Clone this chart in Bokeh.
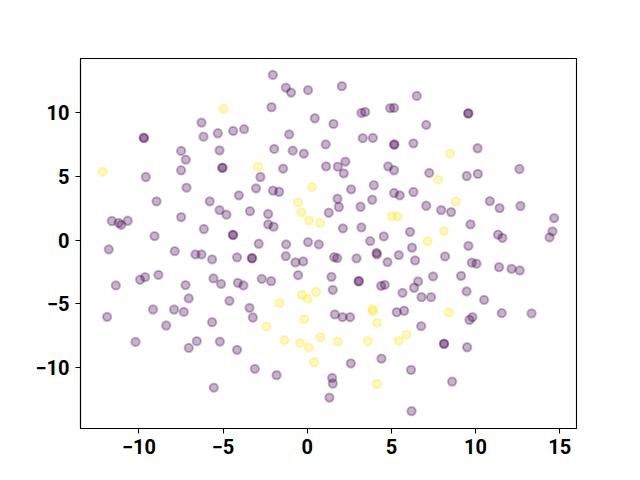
from bokeh.plotting import figure
from bokeh.models import Range1d, FixedTicker, ColumnDataSource
from bokeh.embed import file_html
from bokeh.resources import INLINE

# class 0 (purple) and class 1 (yellow) points
x_vals = [
    -4.97, -6.28, -6.16, -5.31, -4.40, -3.75, -9.69, -9.72, -7.49, -7.21, -5.21, -7.49, -5.03, -5.05,
    -12.15, -9.59, -7.17, -4.06, -8.95, -5.79, -5.21, -4.80, -3.40, -11.61, -11.20, -11.05, -10.66,
    -7.49, -6.14, -4.40, -4.42, -9.07, -11.79,
    -7.87, -6.64, -6.28, -5.65, -4.17, -3.27, -3.29, -11.37, -9.93, -9.63, -8.84, -7.23, -5.57, -5.12,
    -4.12, -3.79, -7.04, -4.62, -3.43, -3.23, -11.89, -9.16, -7.91, -7.33, -8.38, -5.65, -10.20, -7.04,
    -6.56, -5.19, -4.17, -5.55,
    -2.04, -1.27, -0.96, 0.05, 2.06, -2.12, 0.45, 1.56, 3.22, 3.44, 4.93, 5.16, 6.51, -1.07, 3.30, 3.90,
    5.16, 5.18, 6.31, -1.96, -0.86, -0.20, 1.10, -2.92, -2.78, -1.43, 1.12, 1.82, 2.27, 2.17, 4.81, 5.16,
    -3.04, -2.03, -1.67, 0.29, 2.61, 3.96, 5.16, 5.50, 6.31, -2.32, -2.32, -2.00, 1.80, 1.88, 3.17, 3.86,
    -0.54, -0.34, 0.11, 0.77, 1.28, 2.12, 3.22, 5.04, 5.36, 6.11, -2.88, -1.25, 0.05, 0.69, 3.74, 4.55, 6.23,
    9.56, 9.58, 7.07, 8.49, 10.12, 7.25, 7.78, 9.48, 10.14, 12.61, 7.07, 7.96, 8.55, 8.83, 10.85, 11.43,
    12.67, 14.67, 14.57, 14.40, 9.70, 11.34, 11.60, 8.12, 7.15, 9.58,
    6.41, 8.19, 9.78, 10.06, 11.40, 12.14, 12.63, 6.59, 6.35, 7.48, 9.14, 6.79, 7.36, 9.47, 10.51, 8.41,
    9.82, 9.64, 11.56, 13.33, 6.77, 8.12, 8.14, 9.50, 6.17, 8.61, 6.20,
    -1.27, -0.70, -0.24, 1.60, 1.78, 2.93, 4.12, 4.14, 4.77, 5.44, -2.70, -2.14, -0.54, 1.44, 1.52, 3.05,
    3.07, 4.39, 4.61, 5.66, -0.32, 0.02, 0.53, -1.65, -2.42, -0.18, 1.64, 2.10, 2.55, 3.88, 3.90, 4.15,
    5.32, 5.76, 5.90, 5.44, -1.35, -0.42, 0.08, 0.79, 1.82, 3.60, 0.41, 2.59, 4.41, -3.11, -1.82, 1.48,
    1.52, 1.32, 4.14,
]
y_vals = [
    10.34, 9.24, 8.13, 8.40, 8.58, 8.72, 8.01, 8.05, 7.01, 6.32, 7.06, 5.49, 5.67, 5.70,
    5.38, 4.96, 4.12, 3.52, 3.05, 3.05, 2.36, 2.00, 2.27, 1.50, 1.35, 1.20, 1.52,
    1.81, 0.87, 0.39, 0.42, 0.31, -0.73,
    -0.87, -1.13, -1.13, -1.52, -1.36, -1.44, -1.41, -3.57, -3.12, -2.91, -2.73, -3.54, -3.02, -3.44,
    -3.36, -3.57, -4.59, -4.78, -5.33, -6.09, -6.04, -5.46, -5.46, -5.65, -6.72, -6.46, -8.01, -8.48,
    -7.95, -7.98, -8.63, -11.60,
    12.99, 11.99, 11.60, 11.79, 12.10, 10.45, 9.58, 9.13, 10.00, 10.08, 10.37, 10.39, 11.34, 8.32, 8.01, 8.03,
    7.53, 7.50, 7.61, 7.17, 7.03, 6.80, 7.53, 5.75, 4.96, 5.62, 5.80, 5.77, 6.17, 5.25, 5.80, 5.49,
    4.07, 3.88, 3.80, 4.17, 3.99, 4.31, 3.70, 3.52, 3.78, 2.05, 1.24, 1.05, 3.25, 2.60, 2.62, 3.17,
    2.94, 2.18, 1.55, 1.36, 2.15, 0.92, 1.00, 1.89, 1.87, 0.65, -0.29, -0.34, -0.16, -0.34, -0.08, 0.29, -0.60,
    9.95, 9.98, 9.06, 6.80, 7.22, 5.28, 4.75, 5.04, 5.20, 5.59, 2.70, 2.36, 2.20, 3.05, 3.07, 2.52,
    2.68, 1.73, 0.69, 0.21, 1.24, 0.42, 0.18, 0.71, -0.10, -0.45,
    -1.60, -1.29, -1.78, -1.86, -2.13, -2.26, -2.39, -3.25, -3.75, -2.86, -2.81, -4.49, -4.49, -4.04, -4.70, -5.69,
    -6.06, -6.28, -5.75, -5.77, -6.77, -8.17, -8.14, -8.43, -10.21, -11.13, -13.46,
    -1.26, -1.76, -1.68, -1.34, -1.42, -1.44, -1.00, -1.13, -1.73, -1.18, -3.05, -3.23, -2.76, -2.89, -3.91, -3.25,
    -3.22, -3.60, -3.52, -4.15, -4.31, -4.62, -4.07, -4.94, -6.80, -6.22, -5.85, -6.06, -6.06, -5.46, -5.59, -6.51,
    -5.67, -5.56, -7.46, -7.90, -7.87, -8.11, -8.45, -7.64, -7.98, -7.93, -9.61, -9.69, -9.32, -10.13, -10.63, -10.84,
    -11.28, -12.39, -11.31,
]
labels = [
    1, 0, 0, 0, 0, 0, 0, 0, 0, 0, 0, 0, 0, 0,
    1, 0, 0, 0, 0, 0, 0, 0, 0, 0, 0, 0, 0,
    0, 0, 0, 0, 0, 0,
    0, 0, 0, 0, 0, 0, 0, 0, 0, 0, 0, 0, 0, 0,
    0, 0, 0, 0, 0, 0, 0, 0, 0, 0, 0, 0, 0, 0,
    0, 0, 0, 0,
    0, 0, 0, 0, 0, 0, 0, 0, 0, 0, 0, 0, 0, 0, 0, 0,
    0, 0, 0, 0, 0, 0, 0, 1, 0, 0, 0, 0, 0, 0, 0, 0,
    0, 0, 0, 1, 0, 0, 0, 0, 0, 0, 0, 0, 0, 0, 0, 0,
    1, 1, 1, 1, 0, 0, 0, 1, 1, 0, 0, 0, 0, 0, 0, 0, 0,
    0, 0, 0, 1, 0, 0, 1, 0, 0, 0, 0, 0, 0, 1, 0, 0,
    0, 0, 0, 0, 0, 0, 0, 1, 1, 0,
    0, 0, 0, 0, 0, 0, 0, 0, 0, 0, 0, 0, 0, 0, 0, 1,
    0, 0, 0, 0, 0, 0, 0, 0, 0, 0, 0,
    0, 0, 0, 0, 0, 0, 0, 0, 0, 0, 0, 0, 0, 0, 0, 0,
    0, 0, 0, 0, 1, 1, 1, 1, 1, 1, 0, 0, 0, 1, 1, 1,
    0, 0, 1, 1, 1, 1, 1, 1, 1, 1, 1, 0, 0, 0, 0, 0,
    0, 0, 1,
]

x_ticks = [-10, -5, 0, 5, 10, 15]
y_ticks = [-10, -5, 0, 5, 10]
palette = {0: "#440154", 1: "#fde725"}

n = min(len(x_vals), len(y_vals), len(labels))
src = ColumnDataSource(dict(
    x=x_vals[:n], y=y_vals[:n],
    c=[palette[l] for l in labels[:n]],
))

p = figure(
    output_backend="svg", toolbar_location=None,
    frame_width=496, frame_height=370,
    min_border_left=80, min_border_right=56, min_border_top=58, min_border_bottom=44,
    x_range=Range1d(-13.47, 16.0), y_range=Range1d(-14.82, 14.28),
)
p.scatter("x", "y", source=src, size=8.3, fill_color="c", line_color="c",
          fill_alpha=0.3, line_alpha=0.3, line_width=2)

p.grid.visible = False
p.outline_line_color = "black"
p.outline_line_width = 1.1
p.background_fill_color = "white"
p.border_fill_color = "white"

for ax, ticks in ((p.xaxis[0], x_ticks), (p.yaxis[0], y_ticks)):
    ax.ticker = FixedTicker(ticks=ticks)
    ax.minor_tick_line_color = None
    ax.major_tick_in = 0
    ax.major_tick_out = 5
    ax.major_tick_line_color = "black"
    ax.major_tick_line_width = 1.1
    ax.axis_line_color = "black"
    ax.axis_line_width = 1.1
    ax.major_label_text_font = "Roboto"
    ax.major_label_text_font_style = "bold"
    ax.major_label_text_font_size = "20px"
    ax.major_label_text_color = "black"
    ax.major_label_overrides = {t: ("\u2212" + str(abs(t)) if t < 0 else str(t)) for t in ticks}

p.xaxis[0].major_label_standoff = 5
p.yaxis[0].major_label_standoff = 6

open("out.html", "w").write(file_html(p, INLINE))
